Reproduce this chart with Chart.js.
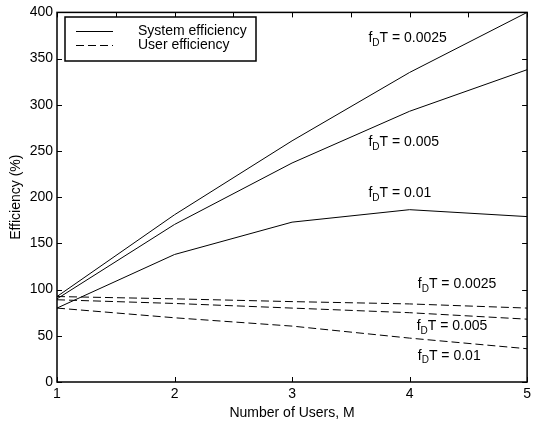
<!DOCTYPE html>
<html>
<head>
<meta charset="utf-8">
<script src="https://cdn.jsdelivr.net/npm/chart.js@4"></script>
<style>
  html, body { margin: 0; padding: 0; background: #fff; }
  #wrap { width: 535px; height: 425px; position: relative; }
</style>
</head>
<body>
<div id="wrap"><canvas id="c" width="535" height="425"></canvas></div>
<script>
// ---- data ----
const users = [1, 2, 3, 4, 5];
const sysEff0025 = [92.5, 181, 261, 335, 400];
const sysEff005  = [90, 170.5, 237, 293, 338];
const sysEff001  = [80, 138, 173, 186.5, 179];
const userEff0025 = [92.5, 90, 87, 84.5, 80];
const userEff005  = [89, 85, 80, 75, 68];
const userEff001  = [80, 69.5, 60.5, 47.5, 36];
const xTicks = [1, 2, 3, 4, 5];
const yTicks = [0, 50, 100, 150, 200, 250, 300, 350, 400];
const legendLabels = ['System efficiency', 'User efficiency'];
// curve annotations: value shown, anchor (M, efficiency)
const annotValues = ['0.0025', '0.005', '0.01', '0.0025', '0.005', '0.01'];
const annotM   = [3.65, 3.65, 3.65, 4.07, 4.06, 4.07];
const annotEff = [372.5, 259.5, 204, 105.5, 60.5, 28.5];

const FONT = '"Liberation Sans", Arial, Helvetica, sans-serif';
const mk = (arr) => users.map((m, i) => ({x: m, y: arr[i]}));
const solid = (arr) => ({data: mk(arr), borderColor: '#000', borderWidth: 1, pointRadius: 0, fill: false, tension: 0});
const dashed = (arr) => Object.assign(solid(arr), {borderDash: [8, 4]});

const framePlugin = {
  id: 'frame',
  afterDraw(chart) {
    const {ctx, chartArea: a, scales: {x, y}} = chart;
    ctx.save();
    ctx.strokeStyle = '#000';
    ctx.lineWidth = 1;
    const tl = 5;
    ctx.beginPath();
    // bottom ticks (integers), top ticks (every 0.5)
    xTicks.forEach(v => { const px = Math.round(x.getPixelForValue(v)) + 0.5; ctx.moveTo(px, a.bottom); ctx.lineTo(px, a.bottom - tl); });
    for (let v = xTicks[0]; v <= xTicks[xTicks.length - 1] + 1e-9; v += 0.5) {
      const px = Math.round(x.getPixelForValue(v)) + 0.5; ctx.moveTo(px, a.top); ctx.lineTo(px, a.top + tl);
    }
    yTicks.forEach(v => {
      const py = Math.round(y.getPixelForValue(v)) + 0.5;
      ctx.moveTo(a.left, py); ctx.lineTo(a.left + tl, py);
      ctx.moveTo(a.right, py); ctx.lineTo(a.right - tl, py);
    });
    ctx.stroke();
    // box
    ctx.lineWidth = 1.5;
    ctx.strokeRect(a.left, a.top, a.right - a.left, a.bottom - a.top);

    // annotations f_D T = ...
    ctx.fillStyle = '#000';
    ctx.textBaseline = 'middle';
    ctx.textAlign = 'left';
    annotValues.forEach((val, i) => {
      let px = x.getPixelForValue(annotM[i]);
      const py = y.getPixelForValue(annotEff[i]);
      ctx.font = '14px ' + FONT;
      ctx.fillText('f', px, py);
      px += ctx.measureText('f').width;
      ctx.font = '10px ' + FONT;
      ctx.fillText('D', px, py + 5);
      px += ctx.measureText('D').width;
      ctx.font = '14px ' + FONT;
      ctx.fillText('T = ' + val, px, py);
    });

    // legend
    const lx = 65, ly = 17, lw = 191, lh = 44;
    ctx.fillStyle = '#fff';
    ctx.fillRect(lx, ly, lw, lh);
    ctx.lineWidth = 1.5;
    ctx.strokeRect(lx, ly, lw, lh);
    ctx.lineWidth = 1;
    ctx.beginPath(); ctx.moveTo(76, 31.5); ctx.lineTo(113, 31.5); ctx.stroke();
    ctx.setLineDash([8, 4]);
    ctx.beginPath(); ctx.moveTo(76, 45.5); ctx.lineTo(113, 45.5); ctx.stroke();
    ctx.setLineDash([]);
    ctx.fillStyle = '#000';
    ctx.font = '14px ' + FONT;
    ctx.fillText(legendLabels[0], 138, 31.5);
    ctx.fillText(legendLabels[1], 138, 45.5);
    ctx.restore();
  }
};

new Chart(document.getElementById('c'), {
  type: 'line',
  data: {
    datasets: [
      solid(sysEff0025), solid(sysEff005), solid(sysEff001),
      dashed(userEff0025), dashed(userEff005), dashed(userEff001)
    ]
  },
  options: {
    responsive: false,
    animation: false,
    devicePixelRatio: 1,
    layout: {padding: {left: 0, top: 6, right: 3, bottom: 0}},
    plugins: {legend: {display: false}, tooltip: {enabled: false}},
    scales: {
      x: {
        type: 'linear', min: 1, max: 5,
        afterBuildTicks: (s) => { s.ticks = xTicks.map(v => ({value: v})); },
        afterFit: (s) => { s.height = 43; },
        grid: {display: false, drawTicks: false},
        border: {display: false},
        ticks: {color: '#000', padding: 4, font: {family: FONT, size: 14}, maxRotation: 0, autoSkip: false},
        title: {display: true, text: 'Number of Users, M', color: '#000',
                font: {family: FONT, size: 14, lineHeight: 1}, padding: {top: 0, bottom: 5}}
      },
      y: {
        type: 'linear', min: 0, max: 400,
        afterBuildTicks: (s) => { s.ticks = yTicks.map(v => ({value: v})); },
        afterFit: (s) => { s.width = 57; },
        grid: {display: false, drawTicks: false},
        border: {display: false},
        ticks: {color: '#000', padding: 4, font: {family: FONT, size: 14}, autoSkip: false},
        title: {display: true, text: 'Efficiency (%)', color: '#000',
                font: {family: FONT, size: 14, lineHeight: 1}, padding: {top: 9, bottom: 0}}
      }
    }
  },
  plugins: [framePlugin]
});
</script>
</body>
</html>
